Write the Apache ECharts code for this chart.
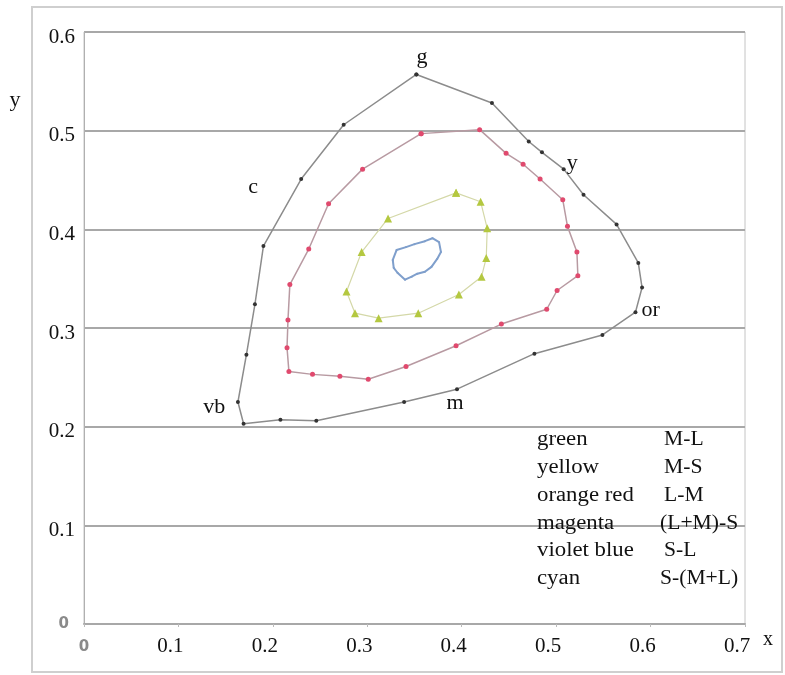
<!DOCTYPE html>
<html>
<head>
<meta charset="utf-8">
<script src="https://cdn.jsdelivr.net/npm/echarts@6/dist/echarts.min.js"></script>
<style>
  html, body { margin: 0; padding: 0; background: #fff; }
  #chart { width: 785px; height: 675px; }
</style>
</head>
<body>
<div id="chart"></div>
<script>
// loops, [x, y]
const outerLoop = [
  [0.352, 0.557], [0.275, 0.506], [0.230, 0.451], [0.190, 0.383], [0.181, 0.324],
  [0.172, 0.273], [0.163, 0.225], [0.169, 0.203], [0.208, 0.207], [0.246, 0.206],
  [0.339, 0.225], [0.395, 0.238], [0.477, 0.274], [0.549, 0.293], [0.584, 0.316],
  [0.591, 0.341], [0.587, 0.366], [0.564, 0.405], [0.529, 0.435], [0.508, 0.461],
  [0.485, 0.478], [0.471, 0.489], [0.432, 0.528]
]
const redLoop = [
  [0.357, 0.497], [0.295, 0.461], [0.259, 0.426], [0.238, 0.380], [0.218, 0.344],
  [0.216, 0.308], [0.215, 0.280], [0.217, 0.256], [0.242, 0.253], [0.271, 0.251],
  [0.301, 0.248], [0.341, 0.261], [0.394, 0.282], [0.442, 0.304], [0.490, 0.319],
  [0.501, 0.338], [0.523, 0.353], [0.522, 0.377], [0.512, 0.403], [0.507, 0.430],
  [0.483, 0.451], [0.465, 0.466], [0.447, 0.477], [0.419, 0.501]
]
const yellowLoop = [
  [0.394, 0.437], [0.420, 0.428], [0.427, 0.401], [0.426, 0.371], [0.421, 0.352],
  [0.397, 0.334], [0.354, 0.315], [0.312, 0.310], [0.287, 0.315], [0.278, 0.337],
  [0.294, 0.377], [0.322, 0.411]
]
const blueLoop = [
  [0.327, 0.369], [0.331, 0.379], [0.341, 0.382], [0.350, 0.385], [0.361, 0.388],
  [0.369, 0.391], [0.376, 0.387], [0.378, 0.377], [0.374, 0.370], [0.368, 0.362],
  [0.361, 0.357], [0.353, 0.355], [0.347, 0.352], [0.340, 0.349], [0.332, 0.356],
  [0.328, 0.361]
]
// letters beside the outer loop
const pointLabels = [
  ['g', 0.358, 0.574], ['y', 0.517, 0.467], ['c', 0.179, 0.443],
  ['or', 0.600, 0.318], ['vb', 0.138, 0.220], ['m', 0.393, 0.224]
]
const legendNames = ['green', 'yellow', 'orange red', 'magenta', 'violet blue', 'cyan']
const legendCodes = ['M-L', 'M-S', 'L-M', '(L+M)-S', 'S-L', 'S-(M+L)']

const serif = '"Liberation Serif", "DejaVu Serif", serif'

function closed(arr) {
  return arr.concat([arr[0]])
}

function loopSeries(name, data, lineColor, dotColor, symbol, size, width) {
  return {
    name: name,
    type: 'line',
    data: closed(data),
    symbol: symbol,
    symbolSize: size,
    showSymbol: true,
    smooth: false,
    silent: true,
    lineStyle: { color: lineColor, width: width },
    itemStyle: { color: dotColor, borderWidth: 0 },
    z: 3
  }
}

let myChart = echarts.init(document.getElementById('chart'))

let option = {
  backgroundColor: '#fff',
  animation: false,
  grid: {
    left: 84,
    right: 40,
    top: 32,
    bottom: 51,
    show: true,
    borderColor: '#c4c4c4',
    borderWidth: 1
  },
  xAxis: {
    type: 'value',
    min: 0,
    max: 0.7,
    interval: 0.1,
    splitLine: { show: false },
    axisLine: { show: true, lineStyle: { color: '#a8a8a8', width: 2 } },
    axisTick: { show: true, length: 3, lineStyle: { color: '#bbb' } },
    axisLabel: {
      margin: 12,
      formatter: function(v) {
        if (v === 0) return '{z|0}'
        return '{n|' + Math.round(v * 10) / 10 + '}'
      },
      rich: {
        z: { fontFamily: 'DejaVu Sans', fontSize: 15, color: '#8a8a8a', fontWeight: 'bold', padding: [4, 0, 0, 0] },
        n: { fontFamily: serif, fontSize: 21, color: '#111', padding: [0, 16, 0, 0] }
      }
    }
  },
  yAxis: {
    type: 'value',
    min: 0,
    max: 0.6,
    interval: 0.1,
    splitLine: { show: true, lineStyle: { color: '#a8a8a8', width: 2 } },
    axisLine: { show: true, lineStyle: { color: '#b0b0b0', width: 1 } },
    axisTick: { show: false },
    axisLabel: {
      margin: 9,
      formatter: function(v) {
        if (v === 0) return '{z|0}'
        return '{n|' + Math.round(v * 10) / 10 + '}'
      },
      rich: {
        z: { fontFamily: 'DejaVu Sans', fontSize: 15, color: '#8a8a8a', fontWeight: 'bold', padding: [0, 6, 0, 0] },
        n: { fontFamily: serif, fontSize: 21, color: '#111', padding: [10, 0, 0, 0] }
      }
    }
  },
  series: [
    loopSeries('outer', outerLoop, '#8c8c8c', '#333', 'circle', 4, 1.5),
    loopSeries('red', redLoop, '#b89aa2', '#e04a6e', 'circle', 5, 1.5),
    loopSeries('yellow', yellowLoop, '#d4d8a8', '#b4c840', 'triangle', 8, 1.2),
    loopSeries('blue', blueLoop, '#7f9fcc', '#7f9fcc', 'circle', 2, 2)
  ]
}
myChart.setOption(option)

// text drawn on top: letters, axis names, colour key
let graphics = [
  {
    type: 'rect',
    shape: { x: 32, y: 7, width: 750, height: 665 },
    style: { fill: 'none', stroke: '#cfcfcf', lineWidth: 2 },
    z: -10
  },
  { type: 'text', x: 15, y: 100, style: { text: 'y', font: '22px ' + serif, fill: '#111', align: 'center', verticalAlign: 'middle' } },
  { type: 'text', x: 768, y: 640, style: { text: 'x', font: '20px ' + serif, fill: '#111', align: 'center', verticalAlign: 'middle' } }
]
pointLabels.forEach(function(p) {
  let pos = myChart.convertToPixel({ gridIndex: 0 }, [p[1], p[2]])
  graphics.push({
    type: 'text', x: pos[0], y: pos[1], z: 10,
    style: { text: p[0], font: '22px ' + serif, fill: '#111', align: 'center', verticalAlign: 'middle' }
  })
})
legendNames.forEach(function(name, i) {
  let y = 440 + i * 27.8
  let codeX = legendCodes[i].length > 3 ? 660 : 664
  graphics.push({
    type: 'text', x: 537, y: y, z: 10, scaleX: 1.14,
    style: { text: name, font: '20px ' + serif, fill: '#111', align: 'left', verticalAlign: 'middle' }
  })
  graphics.push({
    type: 'text', x: codeX, y: y, z: 10, scaleX: 1.08,
    style: { text: legendCodes[i], font: '20px ' + serif, fill: '#111', align: 'left', verticalAlign: 'middle' }
  })
})
myChart.setOption({ graphic: graphics })
</script>
</body>
</html>
